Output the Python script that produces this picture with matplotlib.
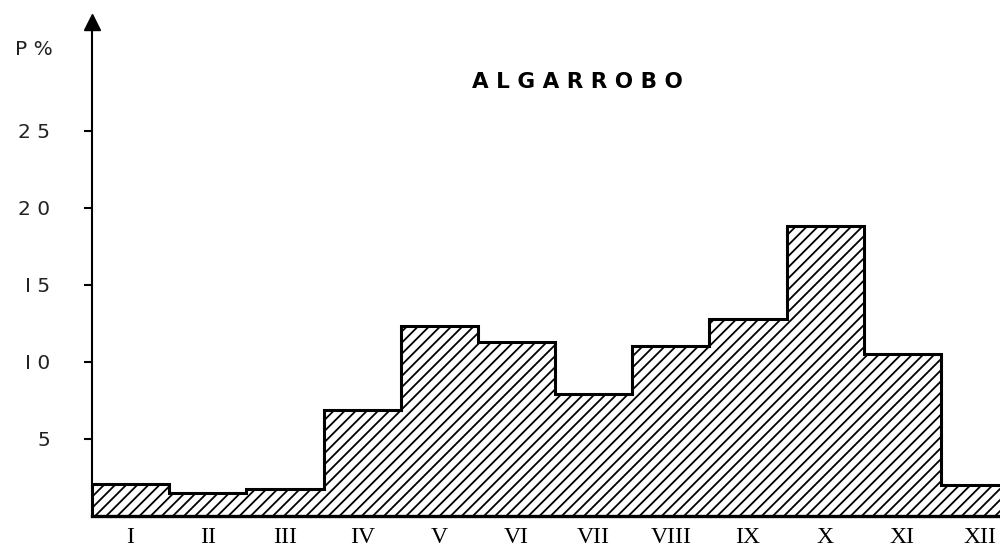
import numpy as np
import matplotlib
matplotlib.use("Agg")
import matplotlib.pyplot as plt

# monthly values
months = ['I', 'II', 'III', 'IV', 'V', 'VI', 'VII', 'VIII', 'IX', 'X', 'XI', 'XII']
p_pct = [2.1, 1.5, 1.75, 6.9, 12.3, 11.3, 7.9, 11.0, 12.8, 18.8, 10.5, 2.0]
yticks = [5, 10, 15, 20, 25]
ytick_labels = ['5', 'I 0', 'I 5', '2 0', '2 5']

plt.rcParams['hatch.linewidth'] = 1.3

fig = plt.figure(figsize=(10, 5.55), dpi=100)
ax = fig.add_axes([0.092, 0.0703, 0.92, 0.894])

edges = np.arange(len(months) + 1)
ax.stairs(p_pct, edges, baseline=0, fill=True, facecolor='white',
          edgecolor='black', hatch='///', linewidth=2.2)

ax.set_xlim(0, 11.92)
ax.set_ylim(0, 32.2)

# axis look: left spine with an arrow, thick baseline
for s in ['top', 'right']:
    ax.spines[s].set_visible(False)
ax.spines['left'].set_linewidth(1.5)
ax.spines['bottom'].set_linewidth(2.4)
ax.plot(0, 0.995, marker='^', color='black', markersize=11,
        transform=ax.transAxes, clip_on=False)

ax.set_yticks(yticks)
ax.set_yticklabels(ytick_labels, fontsize=14.5, color='#222222')
ax.tick_params(axis='y', direction='out', length=6, width=1.5, pad=24)

ax.set_xticks(edges[:-1] + 0.5)
ax.set_xticklabels(months, fontsize=17, family='Liberation Serif')
ax.tick_params(axis='x', length=0, pad=8)

ax.text(-0.084, 0.94, 'P %', transform=ax.transAxes, fontsize=14.5,
        ha='left', va='center', color='#222222')
ax.text(0.528, 0.874, 'A L G A R R O B O', transform=ax.transAxes, fontsize=15.5,
        fontweight='bold', ha='center', va='center')

fig.savefig('out.png', dpi=100)
